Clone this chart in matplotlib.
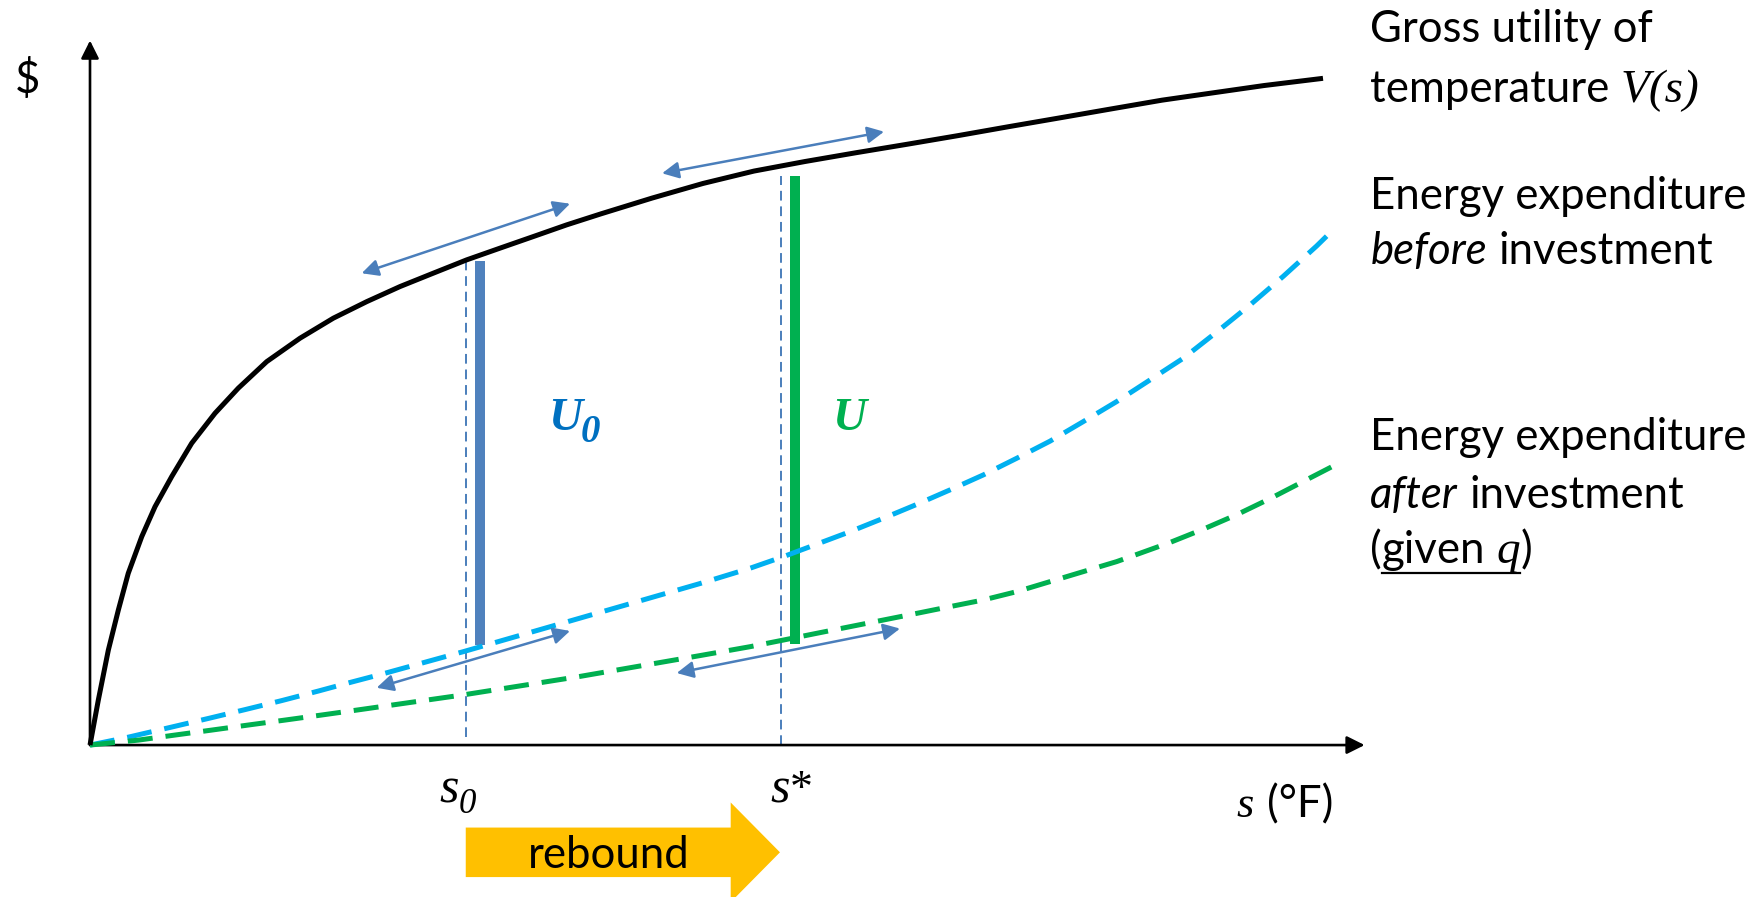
import matplotlib.pyplot as plt
from matplotlib.patches import FancyArrow

# gross utility V(s)
s_V = [0, 0.74, 1.63, 2.52, 3.40, 4.6, 5.78, 7.26, 9.04, 11.11, 13.18, 15.71, 18.67, 21.63,
       24.60, 27.56, 30.52, 33.48, 36.44, 39.40, 42.37, 45.42, 49.96, 54.49, 59.02, 63.56,
       68.09, 72.62, 77.16, 81.69, 86.22, 90.76, 95.29, 99.82, 104.36, 109.6]
V = [0, 4.0, 8.44, 12.0, 15.26, 18.52, 21.18, 23.85, 26.82, 29.48, 31.71, 34.07, 36.15, 37.93,
     39.40, 40.74, 41.93, 43.11, 44.15, 45.18, 46.22, 47.20, 48.60, 49.90, 51.00, 51.85,
     52.63, 53.38, 54.15, 54.95, 55.73, 56.52, 57.30, 57.95, 58.60, 59.24]

# energy expenditure before investment
s_before = [0, 3.4, 7.26, 10.67, 13.78, 17.04, 20.30, 23.26, 25.93, 33.19, 43.56, 54.22, 58.67,
            61.63, 64.6, 67.56, 70.52, 73.48, 76.44, 79.40, 82.37, 85.33, 88.29, 91.26, 94.22,
            97.18, 100.15, 103.11, 106.07, 109.04, 110.52]
E_before = [0, 0.70, 1.60, 2.40, 3.15, 3.95, 4.80, 5.60, 6.30, 8.30, 11.28, 14.35, 15.71,
            16.74, 17.85, 18.96, 20.15, 21.38, 22.67, 24.0, 25.48, 27.0, 28.74, 30.52, 32.44,
            34.37, 36.70, 39.10, 41.65, 44.35, 45.80]

# energy expenditure after investment
s_after = [0, 4.3, 7.56, 10.81, 14.07, 17.33, 20.59, 24.15, 33.19, 43.56, 54.22, 58.67, 61.63,
           64.6, 67.56, 70.52, 73.48, 76.44, 79.40, 82.37, 85.33, 88.29, 91.26, 93.33, 96.0,
           99.0, 102.0, 105.0, 108.0, 111.3]
E_after = [0, 0.44, 0.89, 1.33, 1.78, 2.22, 2.67, 3.17, 4.46, 6.10, 7.95, 8.74, 9.33,
           9.93, 10.52, 11.11, 11.70, 12.30, 12.89, 13.63, 14.52, 15.41, 16.30, 17.04, 18.0,
           19.2, 20.5, 21.95, 23.5, 25.2]

# s0 and s* guides, utility bars
guide_x = [33.4, 61.4]
guide_lo = [0.7, 0.0]
guide_hi = [43.0, 50.6]
bar_x = [34.7, 62.7]
bar_lo = [8.9, 9.0]
bar_hi = [43.0, 50.6]
bar_colors = ['#4F81BD', '#00B050']

# tangent (double-headed) arrows
tangents = [((24.15, 41.92), (42.67, 48.10)),
            ((50.85, 50.80), (70.58, 54.50)),
            ((25.48, 5.09), (42.67, 10.14)),
            ((52.15, 6.40), (72.00, 10.35))]

x_axis_end = 113.3
y_axis_end = 62.6

SANS = 'Lato'
SERIF = 'Liberation Serif'

fig = plt.figure(figsize=(17.64, 8.97), dpi=100)
ax = fig.add_axes([0, 0, 1, 1])
ax.set_xlim(-8.0, 148.8)
ax.set_ylim(-13.5, 66.2)
ax.axis('off')
r = fig.canvas.get_renderer()

# axes with arrow heads
ax_arrow = dict(arrowstyle='-|>,head_length=0.4,head_width=0.2', mutation_scale=27,
                lw=1.9, color='black', shrinkA=0, shrinkB=0)
ax.annotate('', xy=(x_axis_end, 0), xytext=(0, 0), arrowprops=ax_arrow)
ax.annotate('', xy=(0, y_axis_end), xytext=(0, 0), arrowprops=ax_arrow)

# curves
ax.plot(s_before, E_before, color='#00B0F0', lw=3.6, dashes=(5, 2.6), zorder=3)
ax.plot(s_after, E_after, color='#00B050', lw=3.6, dashes=(5, 2.6), zorder=3)
ax.plot(s_V, V, color='black', lw=3.6, zorder=4, solid_capstyle='butt', solid_joinstyle='round')

for gx, lo, hi in zip(guide_x, guide_lo, guide_hi):
    ax.plot([gx, gx], [lo, hi], color='#4A7EBB', lw=1.4, dashes=(5, 3), zorder=2)
for bx, lo, hi, c in zip(bar_x, bar_lo, bar_hi, bar_colors):
    ax.plot([bx, bx], [lo, hi], color=c, lw=7.2, solid_capstyle='butt', zorder=2)

for a, b in tangents:
    ax.annotate('', xy=b, xytext=a,
                arrowprops=dict(arrowstyle='<|-|>,head_length=0.4,head_width=0.2',
                                mutation_scale=25, lw=1.8, color='#4A7EBB',
                                shrinkA=0, shrinkB=0), zorder=5)

# rebound arrow
ax.add_patch(FancyArrow(33.4, -9.53, 27.93, 0, width=4.4, head_width=8.86, head_length=4.38,
                        length_includes_head=True, color='#FFC000', lw=0))


def px_to_data(w):
    inv = ax.transData.inverted()
    return inv.transform((w, 0))[0] - inv.transform((0, 0))[0]


def text_w(s, **kw):
    t = ax.text(0, 0, s, **kw)
    w = t.get_window_extent(renderer=r).width
    t.remove()
    return px_to_data(w)


# fit the sans size to the width of "Energy expenditure" in the reference
FS = 10 * px_to_data(377) / text_w('Energy expenditure', family=SANS, fontsize=10)

sans = dict(family=SANS, fontsize=FS)
sans_it = dict(family=SANS, fontsize=FS, style='italic')
serif_it = dict(family=SERIF, fontsize=34, style='italic')


def line(parts, x, y):
    xs = [x]
    for s, kw in parts:
        if s == ' ':
            x += text_w('a a', **kw) - text_w('aa', **kw)
        else:
            ax.text(x, y, s, ha='left', va='baseline', **kw)
            x += text_w(s, **kw)
        xs.append(x)
    return xs


LX = 113.8
line([('Gross utility of', sans)], LX, 62.46)
line([('temperature', sans), (' ', sans), ('V(s)', serif_it)], LX, 57.17)
line([('Energy expenditure', sans)], LX, 47.64)
line([('before', sans_it), (' ', sans), ('investment', sans)], LX, 42.72)
line([('Energy expenditure', sans)], LX, 26.2)
line([('after', sans_it), (' ', sans), ('investment', sans)], LX, 21.07)
xs = line([('(', sans), ('given', sans), (' ', sans), ('q', serif_it), (')', sans)], LX, 16.14)
ax.plot([xs[1], xs[4]], [15.3, 15.3], color='black', lw=1.6)

# axis labels
ax.text(-6.7, 57.9, '$', ha='left', va='baseline', **sans)
ax.text(101.9, -6.4, 's', ha='left', va='baseline', family=SERIF, fontsize=32, style='italic')
ax.text(104.6, -6.4, '(°F)', ha='left', va='baseline', **sans)
ax.text(31.1, -5.1, 's', ha='left', va='baseline', family=SERIF, fontsize=36, style='italic')
ax.text(32.8, -6.07, '0', ha='left', va='baseline', family=SERIF, fontsize=25, style='italic')
ax.text(60.5, -5.06, 's', ha='left', va='baseline', family=SERIF, fontsize=36, style='italic')
ax.text(62.2, -5.06, '*', ha='left', va='baseline', family=SERIF, fontsize=33)

# U labels
ax.text(40.7, 28.0, 'U', ha='left', va='baseline', family=SERIF, fontsize=34,
        style='italic', weight='bold', color='#0070C0')
ax.text(43.6, 26.9, '0', ha='left', va='baseline', family=SERIF, fontsize=28,
        style='italic', weight='bold', color='#0070C0')
ax.text(66.0, 28.0, 'U', ha='left', va='baseline', family=SERIF, fontsize=34,
        style='italic', weight='bold', color='#00B050')

ax.text(46.1, -10.96, 'rebound', ha='center', va='baseline', **sans)

fig.savefig('out.png', dpi=100)
